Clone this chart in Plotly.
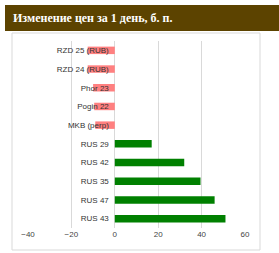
import plotly.graph_objects as go

categories = ["RZD 25 (RUB)", "RZD 24 (RUB)", "Phor 23", "Pogin 22", "MKB (perp)",
              "RUS 29", "RUS 42", "RUS 35", "RUS 47", "RUS 43"]
values = [-12.5, -12.5, -10, -9.5, -9, 17, 32, 39.5, 46, 51]
x_ticks = [-40, -20, 0, 20, 40, 60]

colors = ["#ff8080" if v < 0 else "#008000" for v in values]

fig = go.Figure(go.Bar(
    x=values, y=categories, orientation="h",
    marker=dict(color=colors, line=dict(width=0)),
    width=0.4,
))

L, R, T, B = 28, 34, 41, 25
W, H = 279, 253
pw, ph = W - L - R, H - T - B

def px(x):
    return (x - L) / pw

def py(y):
    return (H - B - y) / ph

fig.update_layout(
    width=W, height=H,
    margin=dict(l=L, r=R, t=T, b=B),
    paper_bgcolor="white", plot_bgcolor="white",
    showlegend=False,
    xaxis=dict(range=[-40, 60], tickvals=x_ticks, showgrid=True, gridcolor="#d9d9d9",
               gridwidth=1, zeroline=True, zerolinecolor="#d9d9d9", zerolinewidth=1,
               tickfont=dict(family="Liberation Sans", size=8, color="#444444"),
               showline=False, ticks="", fixedrange=True),
    yaxis=dict(categoryorder="array", categoryarray=categories, autorange="reversed",
               anchor="free", position=0.4 - 6 / pw, showgrid=False, zeroline=False,
               showline=False, ticks="",
               tickfont=dict(family="Liberation Sans", size=8, color="#333333"),
               fixedrange=True),
    shapes=[
        dict(type="rect", xref="paper", yref="paper",
             x0=px(12), x1=px(260), y0=py(250), y1=py(33),
             line=dict(color="#d9d9d9", width=1), fillcolor="rgba(0,0,0,0)", layer="below"),
        dict(type="rect", xref="paper", yref="paper",
             x0=px(5), x1=px(280), y0=py(31), y1=py(5),
             line=dict(width=0), fillcolor="#5c4300", layer="above"),
    ],
    annotations=[
        dict(text="<b>Изменение цен за 1 день, б. п.</b>", xref="paper", yref="paper",
             x=px(11), y=py(18), xanchor="left", yanchor="middle", showarrow=False,
             font=dict(family="Liberation Serif", size=12, color="white")),
    ],
)

fig.write_html("out.html")
